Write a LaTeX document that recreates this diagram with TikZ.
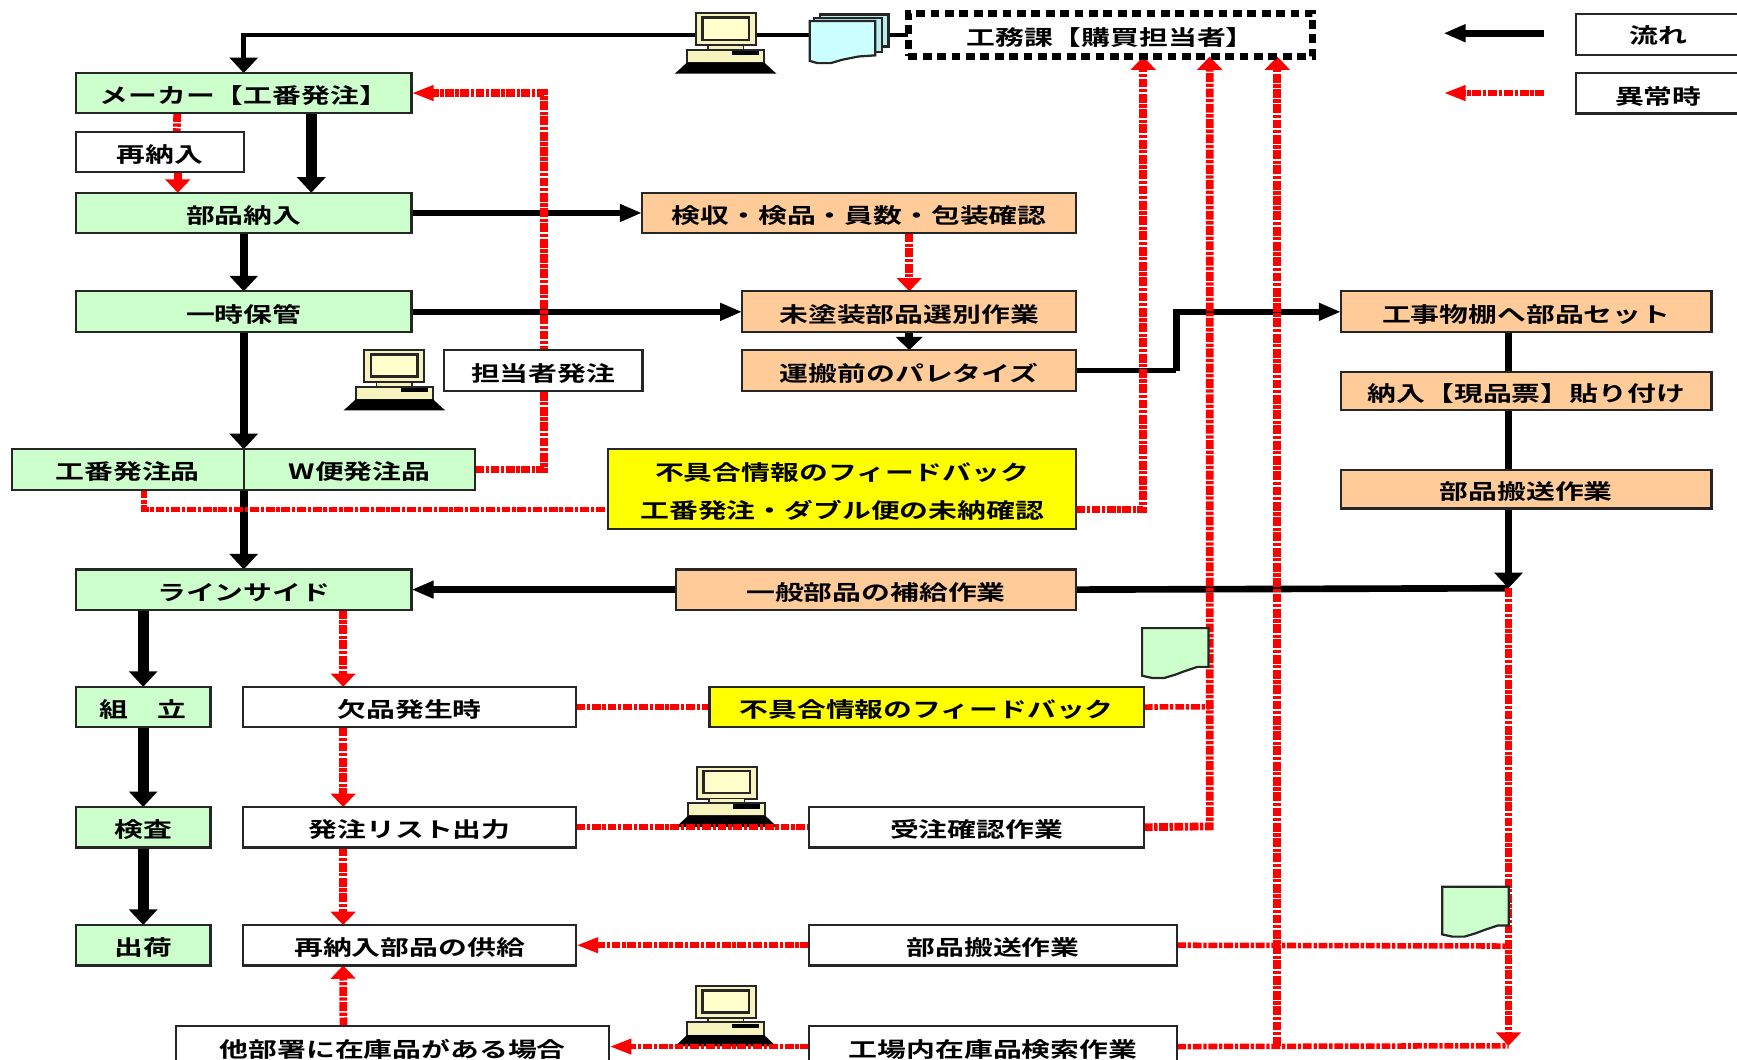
\documentclass[tikz,border=0pt]{standalone}
\usepackage{fontspec}
\usepackage{graphicx}
\setmainfont[BoldFont={Noto Sans CJK JP Bold}]{Noto Sans CJK JP}
\usetikzlibrary{arrows.meta,calc}
\definecolor{grn}{HTML}{CCFFCC}
\definecolor{org}{HTML}{FFCC99}
\definecolor{ylw}{HTML}{FFFF00}
\definecolor{rd}{HTML}{FF0000}
\definecolor{cream}{HTML}{F7F3BE}
\definecolor{scr}{HTML}{FFFFCC}
\definecolor{cyn}{HTML}{CCFFFF}
\definecolor{cyb}{HTML}{B8EEEE}
\pgfdeclarelayer{bg}
\pgfsetlayers{bg,main}
\newcommand{\T}[1]{\scalebox{1.37}[1]{#1}}
\newcommand{\boxnode}[7]{%
  \pgfmathsetmacro\cx{(#3+#5)/2}\pgfmathsetmacro\cy{(#4+#6)/2}%
  \pgfmathsetmacro\ww{(#5-#3)*0.5}\pgfmathsetmacro\hh{(#6-#4)*0.5}%
  \node[#1,minimum width=\ww pt,minimum height=\hh pt] (#2) at (\cx,\cy) {\T{#7}};}
\tikzset{
  tx/.style={font=\fontsize{9.5}{12}\selectfont\bfseries,text height=9.5pt,text depth=0pt,inner sep=0pt},
  bx/.style={draw=black!85,line width=1pt,inner sep=0pt,outer sep=0pt,font=\fontsize{9.5}{12}\selectfont\bfseries},
  gbox/.style={bx,tx,fill=grn},
  obox/.style={bx,tx,fill=org},
  wbox/.style={bx,tx,fill=white},
  ybox/.style={bx,tx,fill=ylw},
  blk/.style={draw=black,line width=3pt},
  blkthin/.style={draw=black,line width=2pt},
  blkv/.style={draw=black,line width=3.5pt},
  blkb/.style={draw=black,line width=5pt},
  redl/.style={draw=rd,line width=3.5pt,dash pattern=on 4pt off .7pt on 1.5pt off .7pt},
  redh/.style={draw=rd,line width=2.5pt,dash pattern=on 4pt off .8pt on 1.5pt off .8pt},
  tipv/.style={-{Triangle[length=7pt,width=12.5pt]}},
  tiph/.style={-{Triangle[length=10pt,width=7.5pt]}},
  rtipv/.style={-{Triangle[length=6pt,width=11pt,color=rd]}},
  rtiph/.style={-{Triangle[length=10pt,width=6.5pt,color=rd]}},
  computer/.pic={
    \filldraw[fill=cream,draw=black!85,line width=.9pt] (19,0) rectangle (73,29);
    \filldraw[fill=scr,draw=black!85,line width=1.1pt] (25,4) rectangle (67,24);
    \filldraw[fill=cream,draw=black!85,line width=.6pt] (30,29) rectangle (62,33);
    \filldraw[fill=cream,draw=black!85,line width=.9pt] (11,33) rectangle (81,45);
    \fill[black] (52,34) rectangle (76,38);
    \fill[black] (0,54.5) -- (3,52) -- (11,44.5) -- (81,44.5) -- (89,52) -- (92,54.5) -- cycle;
  },
  greendoc/.pic={
    \filldraw[fill=grn,draw=black!85,line width=1pt] (0,0) -- (60,0) -- (60,35) -- (50,35) -- (44,37) -- (38,39) -- (30,42) -- (20,45) -- (9,45) -- (0,43) -- cycle;
  },
}
\begin{document}
\begin{tikzpicture}[x=0.5pt,y=-0.5pt]
\useasboundingbox (0,0) rectangle (1568,956);
\clip (0,0) rectangle (1568,956);

% --- nodes: left green column
\boxnode{gbox}{maker}{68.5}{66}{371.5}{102}{メーカー【工番発注】}
\boxnode{wbox}{saino}{68.5}{119}{220.5}{155.5}{再納入}
\boxnode{gbox}{buhin}{68.5}{174}{371.5}{210.5}{部品納入}
\boxnode{gbox}{ichiji}{68.5}{263}{371.5}{300}{一時保管}
\boxnode{gbox}{koban}{10.5}{405.5}{220}{442}{工番発注品}
\boxnode{gbox}{wbin}{220}{405.5}{429}{442}{W便発注品}
\boxnode{gbox}{line}{68.5}{514}{371.5}{550.5}{ラインサイド}
\boxnode{gbox}{kumi}{68.5}{620}{190}{656.5}{組　立}
\boxnode{gbox}{kensa}{68.5}{728.5}{190}{765}{検査}
\boxnode{gbox}{shukka}{68.5}{835}{190}{871.5}{出荷}
% --- middle
\boxnode{wbox}{tanto}{400.5}{316}{580}{353}{担当者発注}
\boxnode{obox}{kenshu}{579.5}{174}{971.5}{210.5}{検収・検品・員数・包装確認}
\boxnode{obox}{mitoso}{670}{263}{971.5}{300}{未塗装部品選別作業}
\boxnode{obox}{unpan}{670}{316}{971.5}{353}{運搬前のパレタイズ}
\node[bx,fill=ylw,align=center,minimum width=211.25pt,minimum height=36pt] (yel) at (760.25,441.5)
  {\rule{0pt}{10.5pt}\T{不具合情報のフィードバック}\\[5pt]\T{工番発注・ダブル便の未納確認}};
\boxnode{obox}{ippan}{610}{514}{971.5}{550.5}{一般部品の補給作業}
\boxnode{wbox}{keppin}{219.5}{620}{520}{656.5}{欠品発生時}
\boxnode{ybox}{yeltwo}{640.5}{620}{1032.5}{656.5}{不具合情報のフィードバック}
\boxnode{wbox}{list}{219.5}{728.5}{520}{765}{発注リスト出力}
\boxnode{wbox}{juchu}{730.5}{728.5}{1032.5}{765}{受注確認作業}
\boxnode{wbox}{kyokyu}{219.5}{835}{520}{871.5}{再納入部品の供給}
\boxnode{wbox}{hansob}{730.5}{835}{1062.5}{871.5}{部品搬送作業}
\boxnode{wbox}{tabu}{159}{926.5}{550}{963}{他部署に在庫品がある場合}
\boxnode{wbox}{kojo}{730.5}{926.5}{1062.5}{963}{工場内在庫品検索作業}
% --- right
\boxnode{obox}{koji}{1210.5}{263}{1545}{300}{工事物棚へ部品セット}
\boxnode{obox}{nonyu}{1210.5}{335.5}{1545}{370}{納入【現品票】貼り付け}
\boxnode{obox}{hanso}{1210.5}{424.5}{1545}{459}{部品搬送作業}
\boxnode{wbox}{legblk}{1422.5}{12.5}{1640}{49.5}{}
\boxnode{wbox}{legred}{1422.5}{66}{1640}{102.5}{}
\node[tx] (legblktxt) at (1497,30) {\T{流れ}};
\node[tx] (legredtxt) at (1497,85) {\T{異常時}};
% --- top dashed box
\node[tx,draw=black,line width=3pt,dash pattern=on 4pt off 2.5pt,fill=white,outer sep=0pt,
  minimum width=182.5pt,minimum height=19.5pt] (komu) at (1002.5,31.5) {\T{工務課【購買担当者】}};

% --- free ends
\coordinate (hub) at (1361.75,531);
\coordinate (lbs) at (1394,30);
\coordinate (lbe) at (1303,30);
\coordinate (lrs) at (1394,84);
\coordinate (lre) at (1303,84);
\coordinate (yelout) at (971.5,460);
\coordinate (yelin) at (549,460);
\coordinate (xa) at (1032,51);
\coordinate (xb) at (1092,51);
\coordinate (xc) at (1153,51);
\coordinate (bt) at (1153,944);
\coordinate (bm) at (1361.75,944);
\coordinate (mm) at (1361.75,854);
\coordinate (jb) at (1092,746);
\coordinate (jy) at (1092,638);

\begin{pgfonlayer}{bg}
\fill[white] (0,0) rectangle (1568,956);
% black connectors
\draw[blkthin,tipv] (komu.west) -| (maker.north);
\draw[blkb,tipv] ([xshift=30.5pt]maker.south) -- ([xshift=30.5pt]buhin.north);
\draw[blkv,tipv] (buhin.south) -- (ichiji.north);
\draw[blkv,tipv] (ichiji.south) -- (koban.north east);
\draw[blkv,tipv] (koban.south east) -- (line.north);
\draw[blk,tiph] (buhin.east) -- (kenshu.west);
\draw[blk,tiph] (ichiji.east) -- (mitoso.west);
\draw[blkv,-{Triangle[length=6pt,width=12pt]}] (mitoso.south) -- (unpan.north);
\draw[blkthin] (unpan.east) -- (1062,334.5) coordinate (bend);
\draw[draw=black,line width=3pt,tiph,line join=miter] (bend) -- (1062,281.5) -- (koji.west);
\draw[blkv] ([xshift=-8pt]koji.south) -- ([xshift=-8pt]nonyu.north);
\draw[blkv] ([xshift=-8pt]nonyu.south) -- ([xshift=-8pt]hanso.north);
\draw[blkv,tipv] ([xshift=-8pt]hanso.south) -- (hub);
\draw[blk] (hub) -- (ippan.east);
\draw[blk,tiph] (ippan.west) -- (line.east);
\draw[blkb,tipv] (line.south -| kumi.north) -- (kumi.north);
\draw[blkb,tipv] (kumi.south) -- (kensa.north);
\draw[blkb,tipv] (kensa.south) -- (shukka.north);
\draw[blk,tiph] (lbs) -- (lbe);
% computers and documents
\pic (pca) at (609,12) {computer};
\pic (pcb) at (310,316) {computer};
\pic (pcc) at (610,692) {computer};
\pic (pcd) at (609,890) {computer};
\filldraw[fill=cyb,draw=black!85,line width=1pt] (740,13) rectangle (802,42);
\filldraw[fill=cyb,draw=black!85,line width=1pt] (735,16) rectangle (796,47);
\filldraw[fill=cyn,draw=black!85,line width=1pt] (731,19) -- (790,19) -- (790,50) -- (775,51) -- (760,54) -- (750,57) -- (738,57) -- (731,55) -- cycle;
% red connectors
\draw[redl,rtiph] (wbin.east) -- (491,423.75) -- (491,84) -- (maker.east);
\draw[redl] ([xshift=-30pt]maker.south) -- ([xshift=7.5pt]saino.north);
\draw[redl,rtipv] ([xshift=8pt]saino.south) -- ([xshift=8pt]saino.south |- buhin.north);
\draw[redl,rtipv] (kenshu.south -| mitoso.north) -- (mitoso.north);
\draw[redh] (koban.south -| 130,0) -- (130,460) -- (yelin);
\draw[redl,rtipv] (yelout) -- (1032,460) -- (xa);
\draw[redl,rtipv] (juchu.east) -- (jb) -- (xb);
\draw[redh] (yeltwo.east) -- (jy);
\draw[redl,rtipv] (bt) -- (xc);
\draw[redl,rtipv] (hub) -- (bm);
\draw[redh] (kojo.east) -- (bm);
\draw[redh] (hansob.east) -- (mm);
\draw[redh,rtiph] (hansob.west) -- (kyokyu.east);
\draw[redh,rtiph] (kojo.west) -- (tabu.east);
\draw[redl,rtipv] ([xshift=-30pt]line.south -| keppin.north) -- ([xshift=-30pt]keppin.north);
\draw[redl,rtipv] ([xshift=-30pt]keppin.south) -- ([xshift=-30pt]list.north);
\draw[redl,rtipv] ([xshift=-30pt]list.south) -- ([xshift=-30pt]kyokyu.north);
\draw[redl,rtipv] (tabu.north -| 310,0) -- ([xshift=-30pt]kyokyu.south);
\draw[redh] (keppin.east) -- (yeltwo.west);
\draw[redh] (list.east) -- (juchu.west);
\draw[redh,rtiph] (lrs) -- (lre);
\pic (doca) at (1031,567) {greendoc};
\pic (docb) at (1302,800.5) {greendoc};
\end{pgfonlayer}
\end{tikzpicture}
\end{document}
